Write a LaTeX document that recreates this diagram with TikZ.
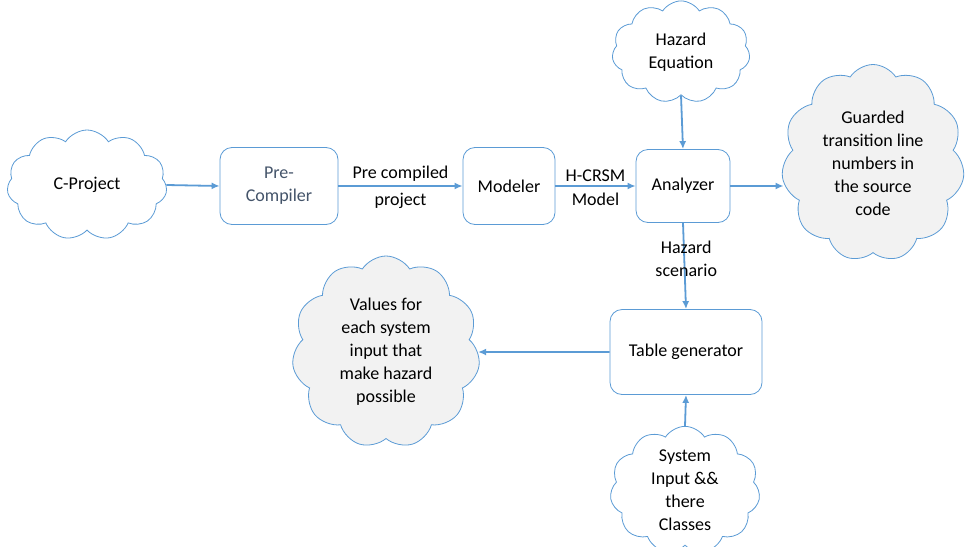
\documentclass[tikz,border=0pt]{standalone}
\usepackage{fontspec}
\setmainfont{Carlito}
\usetikzlibrary{shapes.symbols,arrows.meta}
\definecolor{lineblue}{RGB}{91,155,213}
\definecolor{cloudgray}{RGB}{242,242,242}
\definecolor{slatetext}{RGB}{68,84,106}
\tikzset{
  blockbox/.style={draw=lineblue, fill=white, rounded corners=12pt, line width=0.8pt, align=center},
  idea/.style={cloud, cloud puffs=11, cloud puff arc=115, draw=lineblue, line width=0.8pt, fill=white, align=center, inner sep=0pt},
  flow/.style={draw=lineblue, line width=1.8pt, -{Latex[length=8pt,width=7pt]}}
}
\begin{document}
\begin{tikzpicture}[x=1pt, y=1pt, font=\fontsize{18}{23}\selectfont]
	
	\useasboundingbox (0,0) rectangle (968,-546);
	
	% clouds
	\node[idea, minimum width=160, minimum height=110] (cproj) at (87,-185) {C-Project};
	\node[idea, minimum width=138, minimum height=95] (hazeq) at (681,-52) {Hazard\\Equation};
	\node[idea, fill=cloudgray, minimum width=183, minimum height=197] (guard) at (873,-163) {Guarded\\transition line\\numbers in\\the source\\code};
	\node[idea, fill=cloudgray, minimum width=188, minimum height=192] (values) at (386,-352) {Values for\\each system\\input that\\make hazard\\possible};
	\node[idea, minimum width=150, minimum height=108] (sysin) at (685,-490) {System\\Input \&\&\\there\\Classes};
	
	% boxes
	\node[blockbox, text=slatetext, minimum width=118, minimum height=77] (precomp) at (279,-186) {Pre-\\Compiler};
	\node[blockbox, minimum width=92, minimum height=77] (modeler) at (509,-186) {Modeler};
	\node[blockbox, minimum width=94, minimum height=73] (analyzer) at (683,-186) {Analyzer};
	\node[blockbox, minimum width=152, minimum height=85] (tablegen) at (686,-352) {Table generator};
	
	% arrows
	\draw[flow] (cproj.east) -- (precomp.west);
	\draw[flow] (precomp.east) -- node[above] {Pre compiled} node[below, inner sep=6pt] {project} (modeler.west);
	\draw[flow] (modeler.east) -- node[above] {H-CRSM} node[below, inner sep=6pt] {Model} (analyzer.west);
	\draw[flow] (hazeq.south) -- (analyzer.north);
	\draw[flow] (analyzer.east) -- (analyzer.east -| guard.west);
	\draw[flow] (analyzer.south) -- node[pos=0.42, xshift=2pt, align=center] {Hazard\\scenario} (tablegen.north);
	\draw[flow] (tablegen.west) -- (values.east);
	\draw[flow] (sysin.north) -- (tablegen.south);
	
\end{tikzpicture}
\end{document}
